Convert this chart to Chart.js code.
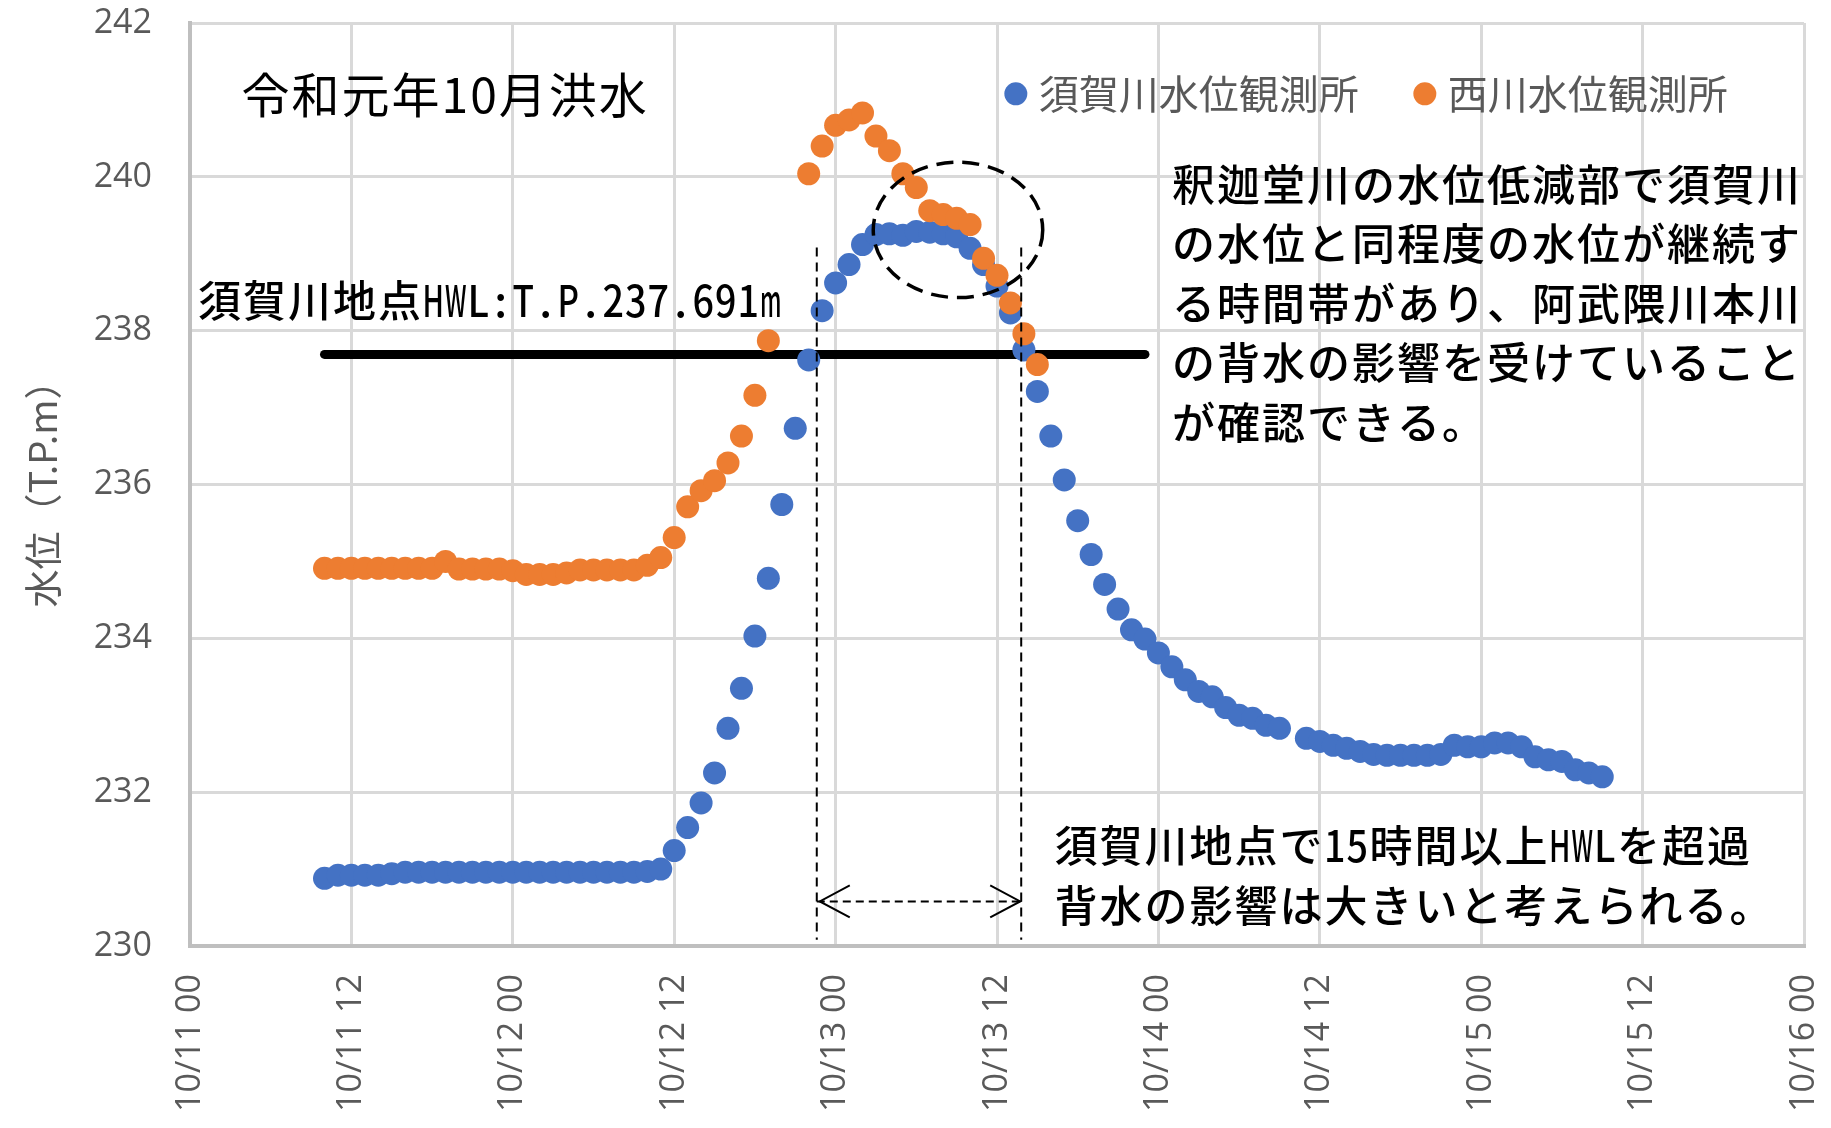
<!DOCTYPE html>
<html lang="ja">
<head>
<meta charset="utf-8">
<title>令和元年10月洪水 水位</title>
<script src="https://cdn.jsdelivr.net/npm/chart.js@4.4.1/dist/chart.umd.min.js"></script>
<style>
  html, body { margin: 0; padding: 0; background: #fff; }
  canvas { display: block; }
</style>
</head>
<body>
<canvas id="levelChart" width="1831" height="1128"></canvas>
<script>
// hourly readings, hours counted from 10/11 00:00, first reading at 10:00
const firstHour = 10

const sukagawaLevels = [
  230.88, 230.92, 230.92, 230.92, 230.92, 230.94, 230.96, 230.96, 230.96, 230.96,
  230.96, 230.96, 230.96, 230.96, 230.96, 230.96, 230.96, 230.96, 230.96, 230.96,
  230.96, 230.96, 230.96, 230.96, 230.97, 231.00, 231.24, 231.54, 231.86, 232.25,
  232.83, 233.35, 234.03, 234.78, 235.74, 236.73, 237.62, 238.26, 238.62, 238.86,
  239.12, 239.25, 239.26, 239.24, 239.29, 239.28, 239.26, 239.22, 239.07, 238.86,
  238.58, 238.23, 237.75, 237.21, 236.63, 236.06, 235.53, 235.09, 234.70, 234.38,
  234.11, 233.99, 233.81, 233.63, 233.46, 233.31, 233.24, 233.10, 233.00, 232.96,
  232.87, 232.83, null,   232.70, 232.66, 232.61, 232.57, 232.53, 232.49, 232.48,
  232.48, 232.48, 232.48, 232.49, 232.61, 232.59, 232.59, 232.64, 232.64, 232.59,
  232.46, 232.42, 232.40, 232.29, 232.25, 232.20
]

const nishikawaLevels = [
  234.91, 234.91, 234.91, 234.91, 234.91, 234.91, 234.91, 234.91, 234.91, 235.00,
  234.90, 234.90, 234.90, 234.90, 234.88, 234.83, 234.83, 234.83, 234.85, 234.89,
  234.89, 234.89, 234.89, 234.89, 234.95, 235.05, 235.31, 235.71, 235.92, 236.05,
  236.28, 236.63, 237.16, 237.87, null,   null,   240.04, 240.40, 240.67, 240.74,
  240.83, 240.53, 240.34, 240.04, 239.86, 239.56, 239.51, 239.46, 239.38, 238.94,
  238.72, 238.36, 237.96, 237.56
]

const seriesNames = ['須賀川水位観測所', '西川水位観測所']
const seriesColors = ['#4472C4', '#ED7D31']

const tickLabels = [
  '10/11 00', '10/11 12', '10/12 00', '10/12 12', '10/13 00', '10/13 12',
  '10/14 00', '10/14 12', '10/15 00', '10/15 12', '10/16 00'
]

// HWL at the Sukagawa gauge and the span where it is exceeded
const hwlLevel = 237.691
const hwlFrom = 10
const hwlTo = 71
const exceedStart = 46.6
const exceedEnd = 61.8
const markerTop = 239.08
const markerBottom = 230.08
const spanArrowLevel = 230.58

const eventTitle = '令和元年10月洪水'
const hwlNote = '須賀川地点HWL:T.P.237.691m'
const backwaterNote = [
  '釈迦堂川の水位低減部で須賀川',
  'の水位と同程度の水位が継続す',
  'る時間帯があり、阿武隈川本川',
  'の背水の影響を受けていること',
  'が確認できる。'
]
const exceedNote = [
  '須賀川地点で15時間以上HWLを超過',
  '背水の影響は大きいと考えられる。'
]

const toPoints = levels => levels
  .map((v, i) => ({ x: firstHour + i, y: v }))
  .filter(p => p.y !== null)

const jpFont = '"Noto Sans CJK JP", "Noto Sans CJK SC", sans-serif'

// MS Gothic style: full-width cells for kana/kanji, half cells for ascii
function drawPitched(ctx, text, x, y, em) {
  for (const ch of text) {
    const cell = ch.charCodeAt(0) < 0x2000 ? em / 2 : em
    ctx.fillText(ch, x + cell / 2, y, cell - 1)
    x += cell
  }
}

const floodNotes = {
  id: 'floodNotes',
  afterDatasetsDraw(chart) {
    const { ctx } = chart
    const px = v => chart.scales.x.getPixelForValue(v)
    const py = v => chart.scales.y.getPixelForValue(v)
    ctx.save()

    // dashed ring around the plateau
    ctx.strokeStyle = '#000'
    ctx.lineWidth = 3.5
    ctx.setLineDash([17, 9])
    ctx.beginPath()
    ctx.ellipse(px(57.1), py(239.31), px(63.4) - px(57.1), py(239.31) - py(240.19), 0, 0, Math.PI * 2)
    ctx.stroke()

    // open heads for the exceedance span arrow
    ctx.setLineDash([])
    ctx.lineWidth = 2
    const ay = py(spanArrowLevel)
    const l = px(exceedStart) + 3
    const r = px(exceedEnd) - 1
    ctx.beginPath()
    ctx.moveTo(l + 30, ay - 16); ctx.lineTo(l, ay); ctx.lineTo(l + 30, ay + 16)
    ctx.moveTo(r - 30, ay - 16); ctx.lineTo(r, ay); ctx.lineTo(r - 30, ay + 16)
    ctx.stroke()

    ctx.textBaseline = 'middle'
    ctx.textAlign = 'left'

    // title
    ctx.fillStyle = '#000'
    ctx.font = '48px ' + jpFont
    ctx.letterSpacing = '2px'
    ctx.fillText(eventTitle, px(3.83), py(241.07))
    ctx.letterSpacing = '0px'

    // legend inside the plot
    ctx.font = '40px ' + jpFont
    let lx = px(61.4)
    const ly = py(241.08)
    chart.data.datasets.filter(ds => ds.inLegend).forEach(ds => {
      ctx.fillStyle = ds.backgroundColor
      ctx.beginPath()
      ctx.arc(lx, ly, 11.5, 0, Math.PI * 2)
      ctx.fill()
      ctx.fillStyle = '#595959'
      ctx.fillText(ds.label, lx + 23, ly)
      lx += 23 + ctx.measureText(ds.label).width + 66
    })

    // notes
    ctx.fillStyle = '#000'
    ctx.textAlign = 'center'
    ctx.font = '500 43px ' + jpFont
    drawPitched(ctx, hwlNote, px(0.52), py(238.39), 45)
    backwaterNote.forEach((line, i) => {
      drawPitched(ctx, line, px(72.94), py(239.90) + i * 59.5, 45)
    })
    exceedNote.forEach((line, i) => {
      drawPitched(ctx, line, px(64.2), py(231.31) + i * 60, 45)
    })

    ctx.restore()
  }
}

const tickFont = { family: '"Open Sans", sans-serif', size: 34 }

new Chart(document.getElementById('levelChart'), {
  type: 'scatter',
  data: {
    datasets: [
      {
        label: seriesNames[0],
        inLegend: true,
        data: toPoints(sukagawaLevels),
        backgroundColor: seriesColors[0],
        borderColor: seriesColors[0],
        borderWidth: 0,
        pointRadius: 11.5,
        pointHoverRadius: 11.5,
        order: 1
      },
      {
        label: seriesNames[1],
        inLegend: true,
        data: toPoints(nishikawaLevels),
        backgroundColor: seriesColors[1],
        borderColor: seriesColors[1],
        borderWidth: 0,
        pointRadius: 11.5,
        pointHoverRadius: 11.5,
        order: 0
      },
      {
        label: 'HWL',
        data: [{ x: hwlFrom, y: hwlLevel }, { x: hwlTo, y: hwlLevel }],
        showLine: true,
        borderColor: '#000',
        borderWidth: 9,
        borderCapStyle: 'round',
        pointRadius: 0,
        order: 2
      },
      {
        label: 'start',
        data: [{ x: exceedStart, y: markerTop }, { x: exceedStart, y: markerBottom }],
        showLine: true,
        borderColor: '#000',
        borderWidth: 2,
        borderDash: [9, 6],
        pointRadius: 0,
        order: -1
      },
      {
        label: 'end',
        data: [{ x: exceedEnd, y: markerTop }, { x: exceedEnd, y: markerBottom }],
        showLine: true,
        borderColor: '#000',
        borderWidth: 2,
        borderDash: [9, 6],
        pointRadius: 0,
        order: -1
      },
      {
        label: 'span',
        data: [{ x: exceedStart, y: spanArrowLevel }, { x: exceedEnd, y: spanArrowLevel }],
        showLine: true,
        borderColor: '#000',
        borderWidth: 2,
        borderDash: [8, 5],
        pointRadius: 0,
        order: -1
      }
    ]
  },
  options: {
    responsive: false,
    animation: false,
    events: [],
    layout: { padding: { top: 23, right: 27, bottom: 0, left: 0 } },
    plugins: {
      legend: { display: false },
      tooltip: { enabled: false }
    },
    scales: {
      x: {
        type: 'linear',
        min: 0,
        max: 120,
        afterFit: scale => {
          scale.height = 182
          scale.paddingLeft = 0
          scale.paddingRight = 0
        },
        grid: { color: '#d9d9d9', lineWidth: 3, drawTicks: false },
        border: { color: '#bfbfbf', width: 4 },
        ticks: {
          stepSize: 12,
          autoSkip: false,
          minRotation: 90,
          maxRotation: 90,
          padding: 28,
          color: '#595959',
          font: tickFont,
          callback: v => tickLabels[v / 12]
        }
      },
      y: {
        min: 230,
        max: 242,
        afterFit: scale => {
          scale.width = 190
          scale.paddingTop = 0
          scale.paddingBottom = 0
        },
        grid: { color: '#d9d9d9', lineWidth: 3, drawTicks: false },
        border: { color: '#bfbfbf', width: 4 },
        ticks: {
          stepSize: 2,
          padding: 38,
          color: '#595959',
          font: tickFont
        },
        title: {
          display: true,
          text: '水位（T.P.m）',
          color: '#595959',
          font: { family: jpFont, size: 38 },
          padding: { top: 20, bottom: 0 }
        }
      }
    }
  },
  plugins: [floodNotes]
})
</script>
</body>
</html>
